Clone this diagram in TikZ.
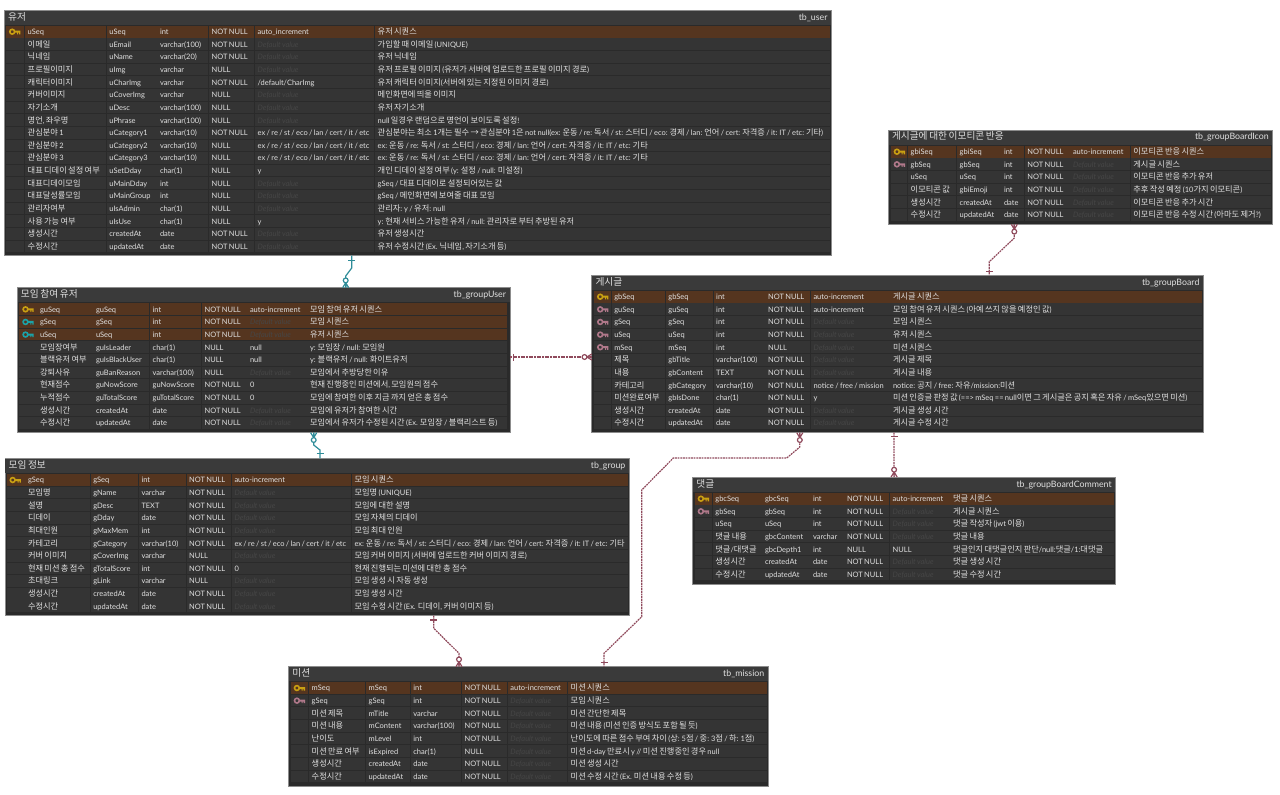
\documentclass[tikz,border=0pt]{standalone}
\usepackage{fontspec}
\usetikzlibrary{calc}
\setmainfont[WordSpace=0.72]{Lato}
\newfontfamily\kr[Scale=1.1]{Noto Sans CJK KR}
\XeTeXinterchartokenstate=1
\chardef\krclass=40
\newcount\krc
\krc="AC00
\loop\XeTeXcharclass\krc=\krclass\ifnum\krc<"D7A3 \advance\krc by 1 \repeat
\XeTeXcharclass"2192=\krclass
\newcommand\krpair[1]{%
  \XeTeXinterchartoks #1 \krclass={\kr}%
  \XeTeXinterchartoks \krclass #1={\rmfamily}}
\krpair{0}\krpair{1}\krpair{2}\krpair{3}\krpair{4095}
\definecolor{tabbody}{HTML}{2A2A2A}
\definecolor{tabhead}{HTML}{3A3A3A}
\definecolor{tabedge}{HTML}{8C8C8C}
\definecolor{cellbg}{HTML}{343434}
\definecolor{keyrow}{HTML}{55351F}
\definecolor{celltext}{HTML}{E0E0E0}
\definecolor{deftext}{HTML}{464646}
\definecolor{keyyellow}{HTML}{C9A012}
\definecolor{keyteal}{HTML}{1BA3A8}
\definecolor{keypink}{HTML}{B0788A}
\definecolor{relteal}{HTML}{2E8C98}
\definecolor{relred}{HTML}{8F4A5C}
\tikzset{
  tablebox/.style={draw=tabedge,line width=0.6pt,fill=tabbody,inner sep=0pt,outer sep=0pt,anchor=north west,rectangle},
  celltxt/.style={text=celltext,inner sep=0pt,outer sep=0pt,anchor=base west,font=\fontsize{5.6}{7}\selectfont},
  deftxt/.style={celltxt,text=deftext,font=\fontsize{5.6}{7}\selectfont\itshape},
  titletxt/.style={celltxt,font=\fontsize{6.6}{8}\selectfont},
  tbtxt/.style={titletxt,anchor=base east},
  relt/.style={draw=relteal,line width=0.9pt},
  relm/.style={draw=relred,line width=0.9pt},
  reld/.style={relm,dash pattern=on 1.4pt off 0.6pt},
}
\newcommand\ertable[9]{% name x0 y0 x1 y1 title tb titleY firstRowY
  \node[tablebox,minimum width={(#4-#2)*0.75pt},minimum height={(#5-#3)*0.75pt}] (#1) at (#2,#3) {};
  \fill[tabhead] ({#2+0.5},{#3+0.5}) rectangle ({#4-0.5},{#9-7});
  \node[titletxt] (#1-title) at ({#2+3.7},{#8+3.4}) {#6};
  \node[tbtxt] (#1-tb) at ({#4-4},{#8+3.4}) {#7};
  \def\curname{#1}\def\curY{#9}\def\rown{0}}
\newcommand\setcols[8]{\def\ci{#1}\def\ca{#2}\def\cb{#3}\def\cc{#4}\def\cd{#5}\def\ce{#6}\def\cf{#7}\def\cz{#8}}
\def\rowh{12.63}
\newcommand\ecell[3]{\fill[#3] (#1,{\curY-5.85}) rectangle ({#2-0.7},{\curY+5.85});}
\newcommand\cellt[3]{\node[celltxt] (\curname-r\rown-#1) at ({#2+2.7},{\curY+2.9}) {#3};}
\newcommand\keyicon[1]{%
  \draw[#1,line width=1.2pt] ({\ci+6.2},\curY) circle[radius=2.4];
  \fill[#1] ({\ci+8.2},{\curY-1}) rectangle ({\ci+14.4},{\curY+1})
            ({\ci+11},{\curY+1}) rectangle ({\ci+12},{\curY+2.6})
            ({\ci+13},{\curY+1}) rectangle ({\ci+14.4},{\curY+2.6});}
\newcommand\erow[8]{% kind a b c d e f  (#8 empty unused)
  \def\kindp{p}\def\kindt{t}\def\kindm{m}\def\thiskind{#1}%
  \ifx\thiskind\kindp\def\rc{keyrow}\else\ifx\thiskind\kindt\def\rc{keyrow}\else\def\rc{cellbg}\fi\fi
  \ecell{\ci}{\ca}{\rc}\ecell{\ca}{\cb}{\rc}\ecell{\cb}{\cc}{\rc}\ecell{\cc}{\cd}{\rc}%
  \ecell{\cd}{\ce}{\rc}\ecell{\ce}{\cf}{\rc}\ecell{\cf}{\cz+0.7}{\rc}%
  \ifx\thiskind\kindp\keyicon{keyyellow}\fi
  \ifx\thiskind\kindt\keyicon{keyteal}\fi
  \ifx\thiskind\kindm\keyicon{keypink}\fi
  \cellt{a}{\ca}{#2}\cellt{b}{\cb}{#3}\cellt{c}{\cc}{#4}\cellt{d}{\cd}{#5}%
  \def\tmpd{#6}\ifx\tmpd\empty
    \node[deftxt] (\curname-r\rown-e) at ({\ce+2.7},{\curY+2.9}) {Default value};
  \else\cellt{e}{\ce}{#6}\fi
  \cellt{f}{\cf}{#7}%
  \pgfmathsetmacro\curY{\curY+\rowh}%
  \pgfmathtruncatemacro\rown{\rown+1}}
\newcommand\crowend[4]{% coord sx sy style
  \draw[#4] ($(#1)+({3*#3},{3*#2})$) -- ($(#1)+({5*#2},{5*#3})$) -- ($(#1)+({-3*#3},{-3*#2})$)
            (#1) -- ($(#1)+({5*#2},{5*#3})$);
  \draw[#4,fill=white] ($(#1)+({7.3*#2},{7.3*#3})$) circle[radius=2.4];}
\newcommand\onebar[5]{% coord sx sy dist style
  \draw[#5] ($(#1)+({#4*#2+3.5*#3},{#4*#3+3.5*#2})$) -- ($(#1)+({#4*#2-3.5*#3},{#4*#3-3.5*#2})$);}
\def\NN{NOT NULL}
\def\EX{ex / re / st / eco / lan / cert / it / etc}
\def\CT{ex: 운동 / re: 독서 / st: 스터디 / eco: 경제 / lan: 언어 / cert: 자격증 / it: IT / etc: 기타}
\begin{document}
\begin{tikzpicture}[x=0.75pt,y=-0.75pt]
\useasboundingbox (0,0) rectangle (1280,794);
% tb_user
\ertable{user}{4.5}{10}{831.5}{255.7}{유저}{tb\_user}{16.6}{31.7}
\setcols{6}{25}{106.7}{157.3}{209}{255}{375}{829.5}
\erow{p}{uSeq}{uSeq}{int}{\NN}{auto\_increment}{유저 시퀀스}{}
\erow{n}{이메일}{uEmail}{varchar(100)}{\NN}{}{가입할 때 이메일 (UNIQUE)}{}
\erow{n}{닉네임}{uName}{varchar(20)}{\NN}{}{유저 닉네임}{}
\erow{n}{프로필이미지}{uImg}{varchar}{NULL}{}{유저 프로필 이미지 (유저가 서버에 업로드한 프로필 이미지 경로)}{}
\erow{n}{캐릭터이미지}{uCharImg}{varchar}{\NN}{/default/CharImg}{유저 캐릭터 이미지(서버에 있는 지정된 이미지 경로)}{}
\erow{n}{커버이미지}{uCoverImg}{varchar}{NULL}{}{메인화면에 띄울 이미지}{}
\erow{n}{자기소개}{uDesc}{varchar(100)}{NULL}{}{유저 자기소개}{}
\erow{n}{명언, 좌우명}{uPhrase}{varchar(100)}{NULL}{}{null 일경우 랜덤으로 명언이 보이도록 설정!}{}
\erow{n}{관심분야 1}{uCategory1}{varchar(10)}{\NN}{\EX}{관심분야는 최소 1개는 필수 → 관심분야 1은 not null(\CT)}{}
\erow{n}{관심분야 2}{uCategory2}{varchar(10)}{NULL}{\EX}{\CT}{}
\erow{n}{관심분야 3}{uCategory3}{varchar(10)}{NULL}{\EX}{\CT}{}
\erow{n}{대표 디데이 설정 여부}{uSetDday}{char(1)}{NULL}{y}{개인 디데이 설정 여부 (y: 설정 / null: 미설정)}{}
\erow{n}{대표디데이모임}{uMainDday}{int}{NULL}{}{gSeq / 대표 디데이로 설정되어있는 값}{}
\erow{n}{대표달성률모임}{uMainGroup}{int}{NULL}{}{gSeq / 메인화면에 보여줄 대표 모임}{}
\erow{n}{관리자여부}{uIsAdmin}{char(1)}{NULL}{}{관리자: y / 유저: null}{}
\erow{n}{사용 가능 여부}{uIsUse}{char(1)}{NULL}{y}{y: 현재 서비스 가능한 유저 / null: 관리자로 부터 추방된 유저}{}
\erow{n}{생성시간}{createdAt}{date}{\NN}{}{유저 생성시간}{}
\erow{n}{수정시간}{updatedAt}{date}{\NN}{}{유저 수정시간 (Ex. 닉네임, 자기소개 등)}{}
% tb_groupUser
\ertable{groupuser}{17.3}{287.7}{510}{432.7}{모임 참여 유저}{tb\_groupUser}{294.3}{309.3}
\setcols{19.3}{37.3}{93.3}{150}{202}{247.3}{307.3}{507.3}
\erow{p}{guSeq}{guSeq}{int}{\NN}{auto-increment}{모임 참여 유저 시퀀스}{}
\erow{t}{gSeq}{gSeq}{int}{\NN}{}{모임 시퀀스}{}
\erow{t}{uSeq}{uSeq}{int}{\NN}{}{유저 시퀀스}{}
\erow{n}{모임장여부}{guIsLeader}{char(1)}{NULL}{null}{y: 모임장 / null: 모임원}{}
\erow{n}{블랙유저 여부}{guIsBlackUser}{char(1)}{NULL}{null}{y: 블랙유저 / null: 화이트유저}{}
\erow{n}{강퇴사유}{guBanReason}{varchar(100)}{NULL}{}{모임에서 추방당한 이유}{}
\erow{n}{현재점수}{guNowScore}{guNowScore}{\NN}{0}{현재 진행중인 미션에서, 모임원의 점수}{}
\erow{n}{누적점수}{guTotalScore}{guTotalScore}{\NN}{0}{모임에 참여한 이후 지금 까지 얻은 총 점수}{}
\erow{n}{생성시간}{createdAt}{date}{\NN}{}{모임에 유저가 참여한 시간}{}
\erow{n}{수정시간}{updatedAt}{date}{\NN}{}{모임에서 유저가 수정된 시간 (Ex. 모임장 / 블랙리스트 등)}{}
% tb_group
\ertable{group}{4.9}{458.3}{629.4}{615.7}{모임 정보}{tb\_group}{464.6}{480}
\setcols{6.5}{25.3}{90.6}{138.8}{186.5}{231.8}{351.8}{627.8}
\erow{p}{gSeq}{gSeq}{int}{\NN}{auto-increment}{모임 시퀀스}{}
\erow{n}{모임명}{gName}{varchar}{\NN}{}{모임명 (UNIQUE)}{}
\erow{n}{설명}{gDesc}{TEXT}{\NN}{}{모임에 대한 설명}{}
\erow{n}{디데이}{gDday}{date}{\NN}{}{모임 자체의 디데이}{}
\erow{n}{최대인원}{gMaxMem}{int}{\NN}{}{모임 최대 인원}{}
\erow{n}{카테고리}{gCategory}{varchar(10)}{\NN}{\EX}{\CT}{}
\erow{n}{커버 이미지}{gCoverImg}{varchar}{NULL}{}{모임 커버 이미지 (서버에 업로드한 커버 이미지 경로)}{}
\erow{n}{현재 미션 총 점수}{gTotalScore}{int}{\NN}{0}{현재 진행되는 미션에 대한 총 점수}{}
\erow{n}{초대링크}{gLink}{varchar}{NULL}{}{모임 생성 시 자동 생성}{}
\erow{n}{생성시간}{createdAt}{date}{\NN}{}{모임 생성 시간}{}
\erow{n}{수정시간}{updatedAt}{date}{\NN}{}{모임 수정 시간 (Ex. 디데이, 커버 이미지 등)}{}
% tb_groupBoard
\ertable{board}{591.8}{275}{1203.4}{432.7}{게시글}{tb\_groupBoard}{281.7}{296.7}
\setcols{594}{611.6}{665.7}{713.5}{765.4}{810.8}{890.3}{1202}
\erow{p}{gbSeq}{gbSeq}{int}{\NN}{auto-increment}{게시글 시퀀스}{}
\erow{m}{guSeq}{guSeq}{int}{\NN}{auto-increment}{모임 참여 유저 시퀀스 (아예 쓰지 않을 예정인 값)}{}
\erow{m}{gSeq}{gSeq}{int}{\NN}{}{모임 시퀀스}{}
\erow{m}{uSeq}{uSeq}{int}{\NN}{}{유저 시퀀스}{}
\erow{m}{mSeq}{mSeq}{int}{NULL}{}{미션 시퀀스}{}
\erow{n}{제목}{gbTitle}{varchar(100)}{\NN}{}{게시글 제목}{}
\erow{n}{내용}{gbContent}{TEXT}{\NN}{}{게시글 내용}{}
\erow{n}{카테고리}{gbCategory}{varchar(10)}{\NN}{notice / free / mission}{notice: 공지 / free: 자유/mission:미션}{}
\erow{n}{미션완료여부}{gbIsDone}{char(1)}{\NN}{y}{미션 인증글 판정 값 (==> mSeq == null이면 그 게시글은 공지 혹은 자유 / mSeq있으면 미션)}{}
\erow{n}{생성시간}{createdAt}{date}{\NN}{}{게시글 생성 시간}{}
\erow{n}{수정시간}{updatedAt}{date}{\NN}{}{게시글 수정 시간}{}
% tb_groupBoardIcon
\ertable{icon}{888.3}{130}{1272.7}{224.3}{게시글에 대한 이모티콘 반응}{tb\_groupBoardIcon}{135.7}{151.7}
\setcols{890.7}{908}{957}{1001.3}{1024.7}{1070.3}{1130.7}{1271}
\erow{p}{gbiSeq}{gbiSeq}{int}{\NN}{auto-increment}{이모티콘 반응 시퀀스}{}
\erow{m}{gbSeq}{gbSeq}{int}{\NN}{}{게시글 시퀀스}{}
\erow{n}{uSeq}{uSeq}{int}{\NN}{}{이모티콘 반응  추가 유저}{}
\erow{n}{이모티콘 값}{gbiEmoji}{int}{\NN}{}{추후 작성 예정 (10가지 이모티콘)}{}
\erow{n}{생성시간}{createdAt}{date}{\NN}{}{이모티콘 반응 추가 시간}{}
\erow{n}{수정시간}{updatedAt}{date}{\NN}{}{이모티콘 반응 수정 시간 (아마도 제거?)}{}
% tb_groupBoardComment
\ertable{comment}{692.7}{477}{1115.7}{584}{댓글}{tb\_groupBoardComment}{483.7}{498.7}
\setcols{694.7}{712.7}{762.3}{810.3}{844.3}{890}{950.3}{1114}
\erow{p}{gbcSeq}{gbcSeq}{int}{\NN}{auto-increment}{댓글 시퀀스}{}
\erow{m}{gbSeq}{gbSeq}{int}{\NN}{}{게시글 시퀀스}{}
\erow{n}{uSeq}{uSeq}{int}{\NN}{}{댓글 작성자 (jwt 이용)}{}
\erow{n}{댓글 내용}{gbcContent}{varchar}{\NN}{}{댓글 내용}{}
\erow{n}{댓글/대댓글}{gbcDepth1}{int}{NULL}{NULL}{댓글인지 대댓글인지 판단/null:댓글/1:대댓글}{}
\erow{n}{생성시간}{createdAt}{date}{\NN}{}{댓글 생성 시간}{}
\erow{n}{수정시간}{updatedAt}{date}{\NN}{}{댓글 수정 시간}{}
% tb_mission
\ertable{mission}{288.7}{666.7}{768.3}{786}{미션}{tb\_mission}{672.7}{688}
\setcols{290.7}{309}{366}{410.7}{462}{507.7}{568}{766.7}
\erow{p}{mSeq}{mSeq}{int}{\NN}{auto-increment}{미션 시퀀스}{}
\erow{m}{gSeq}{gSeq}{int}{\NN}{}{모임 시퀀스}{}
\erow{n}{미션 제목}{mTitle}{varchar}{\NN}{}{미션 간단한 제목}{}
\erow{n}{미션 내용}{mContent}{varchar(100)}{\NN}{}{미션 내용 (미션 인증 방식도 포함 될 듯)}{}
\erow{n}{난이도}{mLevel}{int}{\NN}{}{난이도에 따른 점수 부여 차이 (상: 5점 / 중: 3점 / 하: 1점)}{}
\erow{n}{미션 만료 여부}{isExpired}{char(1)}{NULL}{}{미션 d-day 만료시 y // 미션 진행중인 경우 null}{}
\erow{n}{생성시간}{createdAt}{date}{\NN}{}{미션 생성 시간}{}
\erow{n}{수정시간}{updatedAt}{date}{\NN}{}{미션 수정 시간 (Ex. 미션 내용 수정 등)}{}
% connector end points on the table edges
\coordinate (u1) at ($(user.south west)+(347.2,0)$);
\coordinate (gu1) at ($(groupuser.north west)+(328.4,0)$);
\coordinate (gu2) at ($(groupuser.south west)+(296.4,0)$);
\coordinate (g1) at ($(group.north west)+(315.1,0)$);
\coordinate (gu3) at ($(groupuser.south east)+(0,-75.7)$);
\coordinate (b1) at ($(board.south west)+(0,-75.7)$);
\coordinate (b2) at ($(board.north west)+(397.5,0)$);
\coordinate (ic1) at ($(icon.south west)+(126,0)$);
\coordinate (b3) at ($(board.south west)+(208,0)$);
\coordinate (m1) at ($(mission.north west)+(315.3,0)$);
\coordinate (b4) at ($(board.south west)+(302.2,0)$);
\coordinate (c1) at ($(comment.north west)+(201.4,0)$);
\coordinate (g2) at ($(group.south west)+(428.8,0)$);
\coordinate (m2) at ($(mission.north west)+(170.3,0)$);
% connectors
\draw[relt] (u1) -- (351.7,268) -- (345.7,276) -- (gu1);
\onebar{u1}{0}{1}{4.5}{relt}\crowend{gu1}{0}{-1}{relt}
\draw[relt] (gu2) -- (313.7,445) -- (320.0,450) -- (g1);
\crowend{gu2}{0}{1}{relt}\onebar{g1}{0}{-1}{5}{relt}
\draw[reld] (gu3) -- (b1);
\onebar{gu3}{1}{0}{3.5}{relm}\crowend{b1}{-1}{0}{relm}
\draw[reld] (ic1) -- (1014.3,238) -- (989.3,261.7) -- (b2);
\crowend{ic1}{0}{1}{relm}\onebar{b2}{0}{-1}{3.3}{relm}
\draw[reld] (b3) -- (799.8,447) -- (786.7,458) -- (673.3,458) -- (641.7,490) -- (641.7,616.7) -- (604,653.3) -- (m1);
\crowend{b3}{0}{1}{relm}\onebar{m1}{0}{-1}{4.4}{relm}
\draw[reld] (b4) -- (c1);
\onebar{b4}{0}{1}{4}{relm}\crowend{c1}{0}{-1}{relm}
\draw[reld] (g2) -- (433.7,628.3) -- (459,653.3) -- (m2);
\onebar{g2}{0}{1}{4.3}{relm}\crowend{m2}{0}{-1}{relm}
\end{tikzpicture}
\end{document}
